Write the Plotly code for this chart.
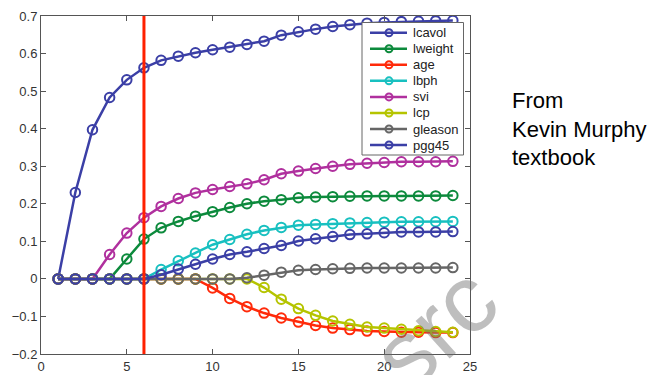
import plotly.graph_objects as go

x = list(range(1, 25))
names = ["lcavol", "lweight", "age", "lbph", "svi", "lcp", "gleason", "pgg45"]
lcavol = [0, 0.23, 0.397, 0.483, 0.53, 0.562, 0.582, 0.593, 0.602, 0.610, 0.617, 0.624,
          0.633, 0.649, 0.658, 0.665, 0.672, 0.677, 0.681, 0.683, 0.685, 0.686, 0.687, 0.688]
lweight = [0, 0, 0, 0, 0.053, 0.106, 0.136, 0.153, 0.167, 0.179, 0.190, 0.200,
           0.207, 0.211, 0.216, 0.218, 0.219, 0.220, 0.221, 0.221, 0.221, 0.221, 0.221, 0.222]
age = [0, 0, 0, 0, 0, 0, 0, 0, 0, -0.024, -0.052, -0.074,
       -0.091, -0.104, -0.115, -0.124, -0.131, -0.135, -0.139, -0.140, -0.142, -0.142, -0.143, -0.143]
lbph = [0, 0, 0, 0, 0, 0, 0.025, 0.048, 0.069, 0.091, 0.105, 0.119,
        0.129, 0.137, 0.143, 0.145, 0.147, 0.149, 0.150, 0.151, 0.152, 0.152, 0.152, 0.153]
svi = [0, 0, 0, 0.065, 0.122, 0.163, 0.193, 0.214, 0.229, 0.238, 0.246, 0.253,
       0.264, 0.280, 0.287, 0.294, 0.300, 0.305, 0.308, 0.310, 0.312, 0.312, 0.312, 0.313]
lcp = [0, 0, 0, 0, 0, 0, 0, 0, 0, 0, 0, 0,
       -0.023, -0.054, -0.079, -0.097, -0.112, -0.121, -0.128, -0.131, -0.134, -0.138, -0.140, -0.142]
gleason = [0, 0, 0, 0, 0, 0, 0, 0, 0, 0, 0, 0.003,
           0.010, 0.018, 0.023, 0.025, 0.027, 0.028, 0.029, 0.029, 0.029, 0.029, 0.029, 0.030]
pgg45 = [0, 0, 0, 0, 0, 0, 0.011, 0.026, 0.039, 0.053, 0.065, 0.072,
         0.081, 0.089, 0.101, 0.107, 0.113, 0.118, 0.120, 0.123, 0.125, 0.125, 0.125, 0.126]
series = [lcavol, lweight, age, lbph, svi, lcp, gleason, pgg45]
colors = ["#3b3fa6", "#0c8a3c", "#ff2a0a", "#18c0c0", "#b0309e", "#b5c400", "#666666", "#3b3fa6"]
vline_x = 6
xticks = [0, 5, 10, 15, 20, 25]
yticks = [-0.2, -0.1, 0, 0.1, 0.2, 0.3, 0.4, 0.5, 0.6, 0.7]

W, H = 660, 375
ML, MR, MT, MB = 41, 190, 16, 21
PW, PH = W - ML - MR, H - MT - MB

def px(xp):
    return (xp - ML) / PW

def py(yp):
    return (H - MB - yp) / PH

FONT = "Liberation Sans, Arial, sans-serif"

fig = go.Figure()
for n, s, c in zip(names, series, colors):
    fig.add_trace(go.Scatter(
        x=x, y=s, name=n, mode="lines+markers", showlegend=False,
        line=dict(color=c, width=2.5),
        marker=dict(symbol="circle-open", size=9.5, color=c, line=dict(width=2, color=c)),
    ))

fig.add_shape(type="line", x0=vline_x, x1=vline_x, y0=0, y1=1, xref="x", yref="paper",
              line=dict(color="#ff2000", width=3))

# legend box (drawn manually to match compact row spacing)
fig.add_shape(type="rect", xref="paper", yref="paper",
              x0=px(362), x1=px(463.5), y0=py(155), y1=py(22.5),
              line=dict(color="#666666", width=1), fillcolor="white", layer="above")
for i, (n, c) in enumerate(zip(names, colors)):
    yy = py(32.7 + 16.05 * i)
    fig.add_shape(type="line", xref="paper", yref="paper",
                  x0=px(370), x1=px(407), y0=yy, y1=yy,
                  line=dict(color=c, width=2.5), layer="above")
    fig.add_shape(type="circle", xref="paper", yref="paper",
                  x0=px(385.5), x1=px(392.5), y0=yy - 3.5 / PH, y1=yy + 3.5 / PH,
                  line=dict(color=c, width=2), fillcolor="rgba(0,0,0,0)", layer="above")
    fig.add_annotation(text=n, xref="paper", yref="paper", x=px(411), y=yy,
                       xanchor="left", yanchor="middle", showarrow=False,
                       font=dict(family=FONT, size=13, color="#222222"))

fig.add_annotation(text="From<br>Kevin Murphy<br>textbook", xref="paper", yref="paper",
                   x=px(510), y=py(86), xanchor="left", yanchor="top", showarrow=False,
                   align="left", font=dict(family=FONT, size=22, color="#000000"))

fig.add_annotation(text="src", xref="paper", yref="paper", x=px(434), y=py(327),
                   xanchor="center", yanchor="middle", showarrow=False, textangle=-42,
                   font=dict(family=FONT, size=96, color="rgba(110,110,110,0.45)"))

axis_common = dict(showline=True, linecolor="#555555", linewidth=1, mirror="ticks",
                   ticks="inside", ticklen=5, tickcolor="#555555", showgrid=False,
                   zeroline=False, automargin=False,
                   tickfont=dict(family=FONT, size=13, color="#333333"))

fig.update_layout(
    width=W, height=H,
    margin=dict(l=ML, r=MR, t=MT, b=MB, autoexpand=False),
    plot_bgcolor="white", paper_bgcolor="white",
    xaxis=dict(range=[0, 25], tickvals=xticks, **axis_common),
    yaxis=dict(range=[-0.2, 0.7], tickvals=yticks, tickformat=".1~f", **axis_common),
    showlegend=False,
)

fig.write_html("out.html")
